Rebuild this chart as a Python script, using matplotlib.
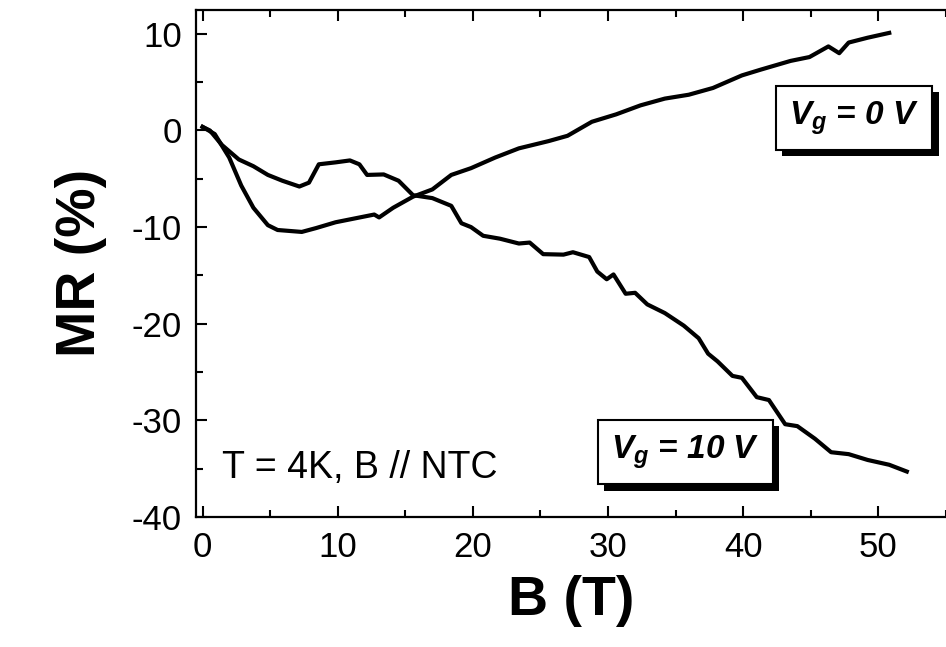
import matplotlib.pyplot as plt
import matplotlib.patheffects as pe
from matplotlib.ticker import MultipleLocator

plt.rcParams["font.family"] = ["Liberation Sans", "DejaVu Sans"]
plt.rcParams["axes.unicode_minus"] = False
plt.rcParams["mathtext.fontset"] = "custom"
plt.rcParams["mathtext.it"] = "Liberation Sans:bold:italic"
plt.rcParams["mathtext.rm"] = "Liberation Sans:bold"

# Vg = 0 V trace
b_vg0 = [0, 0.9, 1.97, 2.86, 3.76, 4.83, 5.55, 7.34, 8.4, 9.84, 11.27, 12.7,
         13.06, 14.1, 15.57, 17.0, 18.4, 19.86, 21.65, 23.4, 25.6, 27.0, 28.8,
         30.6, 32.4, 34.2, 35.97, 37.76, 39.9, 41.3, 43.5, 44.9, 46.3, 47.1,
         47.8, 49.2, 50.8]
mr_vg0 = [0.37, -0.37, -2.8, -5.7, -8.0, -9.8, -10.3, -10.5, -10.1, -9.5, -9.1,
          -8.7, -9.0, -8.0, -6.85, -6.1, -4.6, -3.9, -2.8, -1.85, -1.1, -0.55,
          0.9, 1.67, 2.6, 3.3, 3.7, 4.4, 5.7, 6.3, 7.2, 7.6, 8.7, 8.0, 9.1, 9.6,
          10.1]

# Vg = 10 V trace
b_vg10 = [0, 0.54, 1.43, 2.68, 3.76, 4.83, 5.9, 7.16, 7.87, 8.6, 9.84, 10.9,
          11.6, 12.17, 13.4, 14.5, 15.57, 17.0, 18.4, 19.15, 19.86, 20.76, 22.0,
          23.4, 24.2, 25.2, 26.7, 27.4, 28.6, 29.2, 29.9, 30.4, 31.3, 32.0, 32.9,
          34.2, 35.6, 36.7, 37.4, 38.1, 39.2, 39.9, 41.0, 41.9, 43.1, 44.0, 45.3,
          46.5, 47.8, 49.2, 50.8, 52.1]
mr_vg10 = [0.37, 0, -1.5, -3.0, -3.7, -4.6, -5.2, -5.8, -5.4, -3.5, -3.3, -3.1,
           -3.5, -4.6, -4.55, -5.2, -6.7, -7.0, -7.8, -9.6, -10.0, -10.9, -11.2,
           -11.7, -11.6, -12.8, -12.85, -12.6, -13.1, -14.6, -15.4, -14.9, -16.9,
           -16.8, -18.0, -18.9, -20.2, -21.5, -23.1, -23.9, -25.4, -25.6, -27.6,
           -27.9, -30.4, -30.6, -31.9, -33.3, -33.5, -34.1, -34.6, -35.3]

fig = plt.figure(figsize=(9.46, 6.47), dpi=100)
ax = fig.add_axes([0.207, 0.201, 0.793, 0.784])

ax.plot(b_vg0, mr_vg0, color="black", lw=3.0, solid_joinstyle="round")
ax.plot(b_vg10, mr_vg10, color="black", lw=3.0, solid_joinstyle="round")

ax.set_xlim(-0.5, 55)
ax.set_ylim(-40, 12.5)
ax.xaxis.set_major_locator(MultipleLocator(10))
ax.xaxis.set_minor_locator(MultipleLocator(5))
ax.yaxis.set_major_locator(MultipleLocator(10))
ax.yaxis.set_minor_locator(MultipleLocator(5))
ax.tick_params(which="both", direction="in", top=True, right=False, width=1.5)
ax.tick_params(which="major", length=8, labelsize=25, pad=10)
ax.tick_params(which="minor", length=5)
ax.spines["right"].set_visible(False)
for s in ("left", "bottom", "top"):
    ax.spines[s].set_linewidth(1.6)

ax.set_xlabel("B (T)", fontsize=40, fontweight="bold", labelpad=8)
ax.set_ylabel("MR (%)", fontsize=40, fontweight="bold", labelpad=18)

ax.text(1.4, -34.9, "T = 4K, B // NTC", fontsize=27, va="center", ha="left")

shadow = [pe.SimplePatchShadow(offset=(4.5, -4.5), shadow_rgbFace="black", alpha=1.0),
          pe.Normal()]
for x, y, label in [(48.2, 1.3, r"$V_g$ = 0 V"), (35.7, -33.3, r"$V_g$ = 10 V")]:
    t = ax.text(x, y, label, fontsize=24, fontweight="bold", style="italic",
                ha="center", va="center",
                bbox=dict(boxstyle="square,pad=0.4", fc="white", ec="black", lw=1.5))
    t.get_bbox_patch().set_path_effects(shadow)

fig.savefig("out.png", dpi=100)
